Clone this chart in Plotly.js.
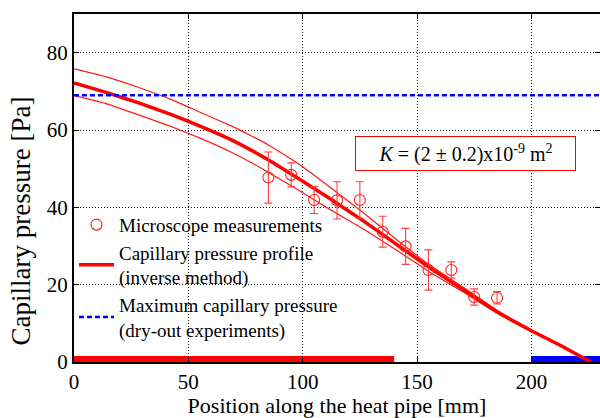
<!DOCTYPE html>
<html>
<head>
<meta charset="utf-8">
<script src="https://cdn.plot.ly/plotly-3.0.1.min.js"></script>
<style>html,body{margin:0;padding:0;background:#fff;}#chart{width:600px;height:418px;}</style>
</head>
<body>
<div id="chart"></div>
<script>
// Microscope measurements
const measX = [85, 95, 105, 115, 125, 135, 145, 155, 165, 175, 185];
const measY = [47.7, 48.4, 41.9, 41.8, 41.9, 33.7, 29.9, 23.8, 23.8, 16.8, 16.6];
const measErr = [6.6, 3.1, 3.5, 4.8, 4.7, 4.0, 4.65, 5.2, 2.1, 2.1, 1.6];

// Capillary pressure profile (inverse method) and its uncertainty band
const profX = [0, 13.7, 28.3, 42.9, 55.1, 69.7, 84.3, 98.8, 111.5, 126.5, 141.1, 155.7, 170.2, 185, 200, 213, 226];
const profMain = [72.2, 69.8, 67.0, 63.9, 61.0, 57.2, 52.5, 47.2, 42.4, 36.5, 30.4, 24.3, 18.7, 13.0, 8.1, 4.2, 0.0];
const profUpper = [75.8, 73.8, 71.0, 67.8, 64.6, 60.8, 56.4, 51.0, 45.4, 38.6, 31.6, 25.0, 19.3, 13.3, 8.2, 4.3, 0.1];
const profLower = [68.9, 66.9, 63.9, 60.8, 57.9, 54.0, 49.3, 44.2, 39.6, 34.4, 28.9, 23.2, 18.1, 12.6, 7.9, 4.1, 0.0];

// Maximum capillary pressure (dry-out experiments)
const maxPcX = [0, 230];
const maxPcY = [69, 69];

// Zones marked along the bottom axis
const redZoneX = [0, 140];
const redZoneY = [0, 0];
const blueZoneX = [200, 230];
const blueZoneY = [0, 0];

const FONT = 'Liberation Serif';

const traces = [
  {x: redZoneX, y: redZoneY, mode: 'lines', line: {color: '#ff0000', width: 12}, showlegend: false, hoverinfo: 'skip'},
  {x: blueZoneX, y: blueZoneY, mode: 'lines', line: {color: '#0000ff', width: 12}, showlegend: false, hoverinfo: 'skip'},
  {x: profX, y: profUpper, mode: 'lines', line: {color: '#ff1a1a', width: 1.2, shape: 'spline', smoothing: 0.3}, showlegend: false},
  {x: profX, y: profLower, mode: 'lines', line: {color: '#ff1a1a', width: 1.2, shape: 'spline', smoothing: 0.3}, showlegend: false},
  {x: profX, y: profMain, mode: 'lines', name: 'Capillary pressure profile<br>(inverse method)', legendrank: 2,
   line: {color: '#ff0000', width: 3.5, shape: 'spline', smoothing: 0.3}},
  {x: maxPcX, y: maxPcY, mode: 'lines', name: 'Maximum capillary pressure<br>(dry-out experiments)', legendrank: 3,
   line: {color: '#0000ff', width: 2.5, dash: '5px,3px'}},
  {x: measX, y: measY, mode: 'markers', name: 'Microscope measurements', legendrank: 1,
   marker: {symbol: 'circle-open', size: 11, color: '#ff2020', line: {width: 1.1, color: '#ff2020'}},
   error_y: {type: 'data', array: measErr, visible: true, color: '#ff4040', thickness: 1.1, width: 4}}
];

const axisCommon = {
  showline: true, linecolor: '#000', linewidth: 2, mirror: 'ticks',
  ticks: 'inside', ticklen: 5, tickwidth: 1, tickcolor: '#000',
  showgrid: true, gridcolor: '#111', gridwidth: 1, griddash: '1px,2px',
  zeroline: false, tickfont: {family: FONT, size: 21, color: '#000'}
};

const layout = {
  width: 600, height: 418,
  margin: {l: 74, r: 0, t: 14, b: 56},
  paper_bgcolor: '#fff', plot_bgcolor: '#fff',
  font: {family: FONT, color: '#000'},
  showlegend: true,
  legend: {x: 0.0, xanchor: 'left', y: 0.449, yanchor: 'top', bgcolor: 'rgba(0,0,0,0)',
           font: {family: FONT, size: 19, color: '#000'}, itemwidth: 35, valign: 'middle'},
  xaxis: Object.assign({}, axisCommon, {
    range: [0, 230], tickvals: [0, 50, 100, 150, 200],
    title: {text: 'Position along the heat pipe [mm]', font: {family: FONT, size: 22, color: '#000'}, standoff: 2}
  }),
  yaxis: Object.assign({}, axisCommon, {
    range: [0, 90], tickvals: [0, 20, 40, 60, 80]
  }),
  annotations: [{
    xref: 'paper', yref: 'paper', x: -0.1, y: 0.405, xanchor: 'center', yanchor: 'middle',
    text: 'Capillary pressure [Pa]', textangle: -90, showarrow: false,
    font: {family: FONT, size: 27, color: '#000'}
  }, {
    xref: 'paper', yref: 'paper', x: 0.745, y: 0.599, xanchor: 'center', yanchor: 'middle',
    text: '<i>K</i> = (2 ± 0.2)x10<sup>-9</sup> m<sup>2</sup>', showarrow: false,
    font: {family: FONT, size: 20, color: '#000'},
    bordercolor: '#ff0000', borderwidth: 1, borderpad: 1, bgcolor: '#fff',
    width: 217, height: 31
  }]
};

Plotly.newPlot('chart', traces, layout, {displayModeBar: false, staticPlot: true});
</script>
</body>
</html>
